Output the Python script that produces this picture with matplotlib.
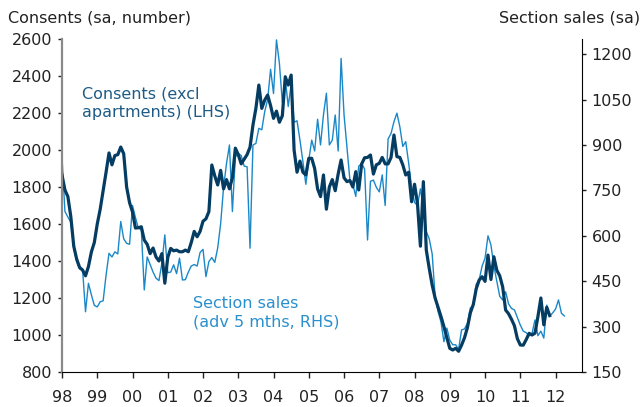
import numpy as np
import matplotlib
matplotlib.use("Agg")
import matplotlib.pyplot as plt

# monthly values, Jan 1998 onwards
# building consents excl apartments (LHS)
consents = [
    1865, 1784, 1748, 1640, 1480, 1410, 1365, 1351, 1320, 1370, 1449, 1500,  # 98
    1600, 1680, 1780, 1880, 1984, 1920, 1970, 1975, 2016, 1980, 1800, 1715,  # 99
    1665, 1578, 1580, 1585, 1513, 1490, 1440, 1470, 1422, 1400, 1440, 1280,  # 00
    1420, 1468, 1455, 1459, 1450, 1450, 1459, 1450, 1500, 1560, 1531, 1560,  # 01
    1615, 1628, 1667, 1919, 1860, 1811, 1890, 1790, 1840, 1790, 1850, 2010,  # 02
    1975, 1925, 1950, 1975, 2015, 2135, 2225, 2351, 2225, 2270, 2297, 2240,  # 03
    2171, 2210, 2150, 2185, 2396, 2351, 2405, 2000, 1880, 1940, 1880, 1865,  # 04
    1955, 1955, 1900, 1790, 1748, 1865, 1680, 1800, 1840, 1780, 1870, 1946,  # 05
    1850, 1829, 1835, 1800, 1883, 1784, 1925, 1958, 1960, 1973, 1870, 1920,  # 06
    1928, 1960, 1925, 1925, 1960, 2081, 1964, 1960, 1920, 1865, 1880, 1720,  # 07
    1815, 1710, 1480, 1829, 1459, 1360, 1270, 1200, 1150, 1100, 1045, 985,   # 08
    928, 919, 928, 912, 945, 985, 1040, 1120, 1165, 1250, 1297, 1315,        # 09
    1290, 1432, 1300, 1423, 1350, 1320, 1260, 1135, 1115, 1085, 1050, 980,   # 10
    946, 945, 975, 1009, 1000, 1010, 1100, 1200, 1055, 1150, 1105,           # 11
]

# section sales, advanced 5 months (RHS)
sections = [
    860, 680, 662, 645, 560, 515, 490, 490, 349, 443, 405, 370,      # 98
    365, 382, 385, 470, 542, 530, 547, 540, 647, 590, 575, 572,      # 99
    700, 660, 625, 620, 421, 530, 505, 480, 460, 452, 509, 603,      # 00
    478, 480, 504, 475, 526, 454, 455, 480, 500, 505, 500, 545,      # 01
    555, 465, 515, 528, 512, 560, 640, 760, 839, 900, 680, 860,      # 02
    872, 865, 830, 828, 559, 900, 905, 955, 950, 1010, 1050, 1150,   # 03
    1070, 1247, 1170, 1040, 1120, 1027, 1100, 975, 980, 916, 845, 770,  # 04
    850, 916, 880, 985, 900, 1000, 1071, 900, 916, 999, 880, 1186,   # 05
    1000, 894, 784, 770, 730, 830, 839, 820, 586, 780, 784, 760,     # 06
    745, 801, 700, 920, 938, 977, 1005, 960, 895, 911, 840, 760,     # 07
    710, 700, 755, 690, 614, 590, 540, 400, 350, 315, 250, 295,      # 08
    255, 240, 240, 225, 289, 292, 311, 362, 368, 440, 455, 500,      # 09
    526, 600, 570, 500, 450, 400, 388, 415, 375, 360, 355, 330,      # 10
    305, 285, 280, 270, 278, 322, 270, 285, 262, 371, 335, 345,      # 11
    358, 388, 344, 335,                                              # 12
]

years = list(range(1998, 2013))
year_labels = ['98', '99', '00', '01', '02', '03', '04', '05', '06', '07',
               '08', '09', '10', '11', '12']

dark = '#053c62'
light = '#1a88c8'

x1 = 1998 + np.arange(len(consents)) / 12.0
x2 = 1998 + np.arange(len(sections)) / 12.0

fig = plt.figure(figsize=(6.43, 4.07), dpi=100)
ax1 = fig.add_axes([62 / 643, 35 / 407, 520 / 643, 333 / 407])
ax2 = ax1.twinx()

ax2.plot(x2, sections, color=light, lw=1.0)
ax1.plot(x1, consents, color=dark, lw=2.3)

# keep the thick consents line on top
ax1.set_zorder(ax2.get_zorder() + 1)
ax1.patch.set_visible(False)

ax1.set_xlim(1998, 2012.75)
ax1.set_ylim(800, 2600)
ax2.set_ylim(150, 1250)
ax1.set_xticks(years)
ax1.set_xticklabels(year_labels)
ax1.set_yticks(np.arange(800, 2601, 200))
ax2.set_yticks(np.arange(150, 1201, 150))

fs = 11.5
tc = '#222222'
ax1.tick_params(axis='x', direction='out', length=4, width=1, pad=9, labelsize=fs, colors=tc)
ax1.tick_params(axis='y', direction='out', length=3, width=1, pad=4, labelsize=fs, colors=tc)
ax2.tick_params(axis='y', direction='out', length=3, width=1, pad=4, labelsize=fs, colors=tc)

for a in (ax1, ax2):
    a.spines['top'].set_visible(False)
ax1.spines['right'].set_visible(False)
ax2.spines['left'].set_visible(False)
ax2.spines['bottom'].set_visible(False)
ax1.spines['left'].set_color('#8a8a8a')
ax1.spines['left'].set_linewidth(1.6)
ax1.spines['bottom'].set_color('black')
ax2.spines['right'].set_color('black')

fig.text(8 / 643, 1 - 18 / 407, 'Consents (sa, number)', fontsize=fs, color=tc,
         ha='left', va='center')
fig.text(640 / 643, 1 - 18 / 407, 'Section sales (sa)', fontsize=fs, color=tc,
         ha='right', va='center')

ax1.text(0.038, 0.858, 'Consents (excl\napartments) (LHS)', transform=ax1.transAxes,
         fontsize=fs, color='#1f5b85', ha='left', va='top', linespacing=1.3)
ax1.text(0.252, 0.228, 'Section sales\n(adv 5 mths, RHS)', transform=ax1.transAxes,
         fontsize=fs, color='#2a90cd', ha='left', va='top', linespacing=1.3)

fig.savefig('out.png', dpi=100)
